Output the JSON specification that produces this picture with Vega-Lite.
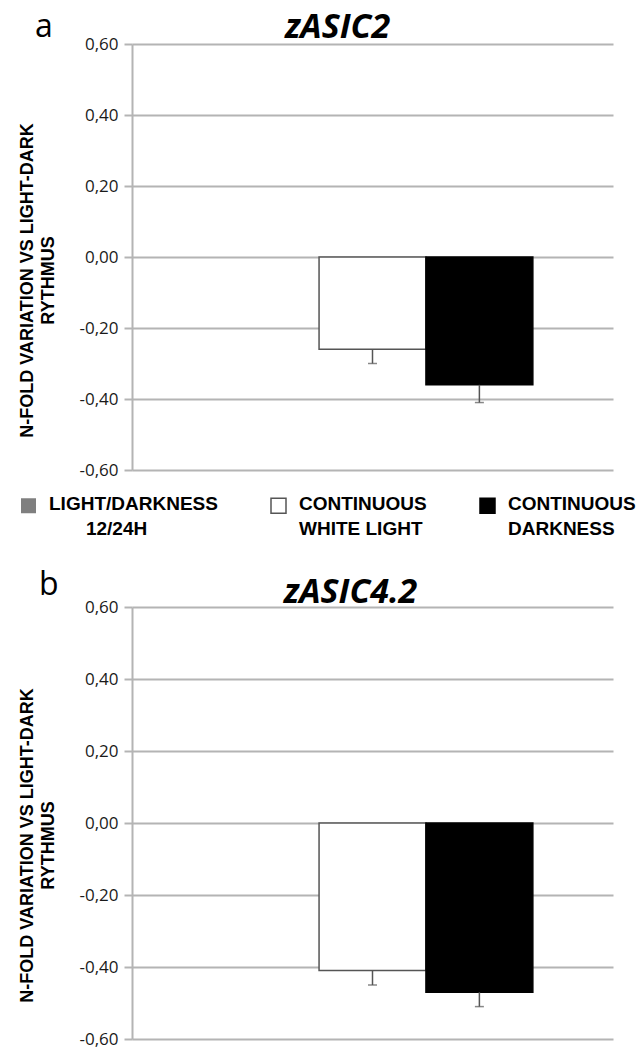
{
  "$schema": "https://vega.github.io/schema/vega-lite/v6.json",
  "background": "white",
  "padding": {"left": 18, "top": 11, "right": 0, "bottom": 0},
  "datasets": {
    "zasic2": [
      {"condition": "LIGHT/DARKNESS 12/24H", "value": 0, "low": null},
      {"condition": "CONTINUOUS WHITE LIGHT", "value": -0.26, "low": -0.30},
      {"condition": "CONTINUOUS DARKNESS", "value": -0.36, "low": -0.41}
    ],
    "zasic42": [
      {"condition": "LIGHT/DARKNESS 12/24H", "value": 0, "low": null},
      {"condition": "CONTINUOUS WHITE LIGHT", "value": -0.41, "low": -0.45},
      {"condition": "CONTINUOUS DARKNESS", "value": -0.47, "low": -0.51}
    ]
  },
  "spacing": 30,
  "resolve": {
    "scale": {"color": "independent", "stroke": "independent", "x": "independent", "y": "independent"},
    "legend": {"color": "independent", "stroke": "independent"}
  },
  "vconcat": [
    {
      "title": {"text": "a", "anchor": "start", "frame": "bounds", "font": "Open Sans", "fontSize": 32, "fontWeight": "normal", "color": "#000000", "baseline": "alphabetic", "offset": 0, "dx": 17, "dy": 58},
      "resolve": {
        "scale": {"color": "independent", "stroke": "independent"},
        "legend": {"color": "independent", "stroke": "independent"}
      },
      "vconcat": [
        {
          "width": 481,
          "height": 426,
          "data": {"name": "zasic2"},
          "title": {"text": "zASIC2", "font": "Open Sans", "fontSize": 34, "fontStyle": "italic", "fontWeight": "bold", "color": "#000000", "anchor": "middle", "baseline": "alphabetic", "offset": 0, "dx": -35, "dy": 37},
          "encoding": {
            "x": {"field": "condition", "type": "nominal", "sort": null, "axis": null,
                  "scale": {"domain": ["LIGHT/DARKNESS 12/24H", "CONTINUOUS WHITE LIGHT", "CONTINUOUS DARKNESS"], "paddingInner": 0, "paddingOuter": 0.75}}
          },
          "layer": [
            {
              "mark": {"type": "bar", "strokeWidth": 1.5},
              "encoding": {
                "y": {"field": "value", "type": "quantitative",
                      "scale": {"domain": [-0.6, 0.6], "nice": false},
                      "title": ["N-FOLD VARIATION VS LIGHT-DARK", "RYTHMUS"],
                      "axis": {"values": [-0.6, -0.4, -0.2, 0, 0.2, 0.4, 0.6],
                               "labelExpr": "replace(replace(format(datum.value, '.2f'), '.', ','), '\u2212', '-')",
                               "labelFont": "Open Sans", "labelFontSize": 17, "labelColor": "#1a1a1a", "labelPadding": 6, "labelOffset": -4,
                               "tickSize": 8, "tickColor": "#b4b4b4", "tickWidth": 2,
                               "domainColor": "#b4b4b4", "domainWidth": 2,
                               "grid": true, "gridColor": "#b4b4b4", "gridWidth": 2,
                               "titleFont": "Liberation Sans", "titleFontWeight": "bold", "titleFontSize": 18, "titleColor": "#000000",
                               "titleLineHeight": 21, "titleX": -96, "titleY": 236, "titleAlign": "center", "titleBaseline": "bottom", "titleAngle": 270}},
                "color": {"field": "condition", "type": "nominal",
                          "scale": {"domain": ["LIGHT/DARKNESS 12/24H", "CONTINUOUS WHITE LIGHT", "CONTINUOUS DARKNESS"], "range": ["#7f7f7f", "#ffffff", "#000000"]},
                          "legend": {"orient": "none", "legendX": -113, "legendY": 452, "direction": "horizontal", "title": null,
                                     "symbolType": "square", "symbolSize": 225, "symbolStrokeColor": "#444444", "symbolStrokeWidth": 1.5,
                                     "labelFont": "Liberation Sans", "labelFontWeight": "bold", "labelFontSize": 19, "labelColor": "#000000",
                                     "labelOffset": 11, "columnPadding": 50, "labelLimit": 400, "labelBaseline": "alphabetic",
                                     "labelExpr": "datum.label == 'LIGHT/DARKNESS 12/24H' ? ['LIGHT/DARKNESS', '\u200b\u00a0\u00a0\u00a0\u00a0\u00a0\u00a0\u00a012/24H'] : datum.label == 'CONTINUOUS WHITE LIGHT' ? ['CONTINUOUS', 'WHITE LIGHT'] : ['CONTINUOUS', 'DARKNESS']"}},
                "stroke": {"field": "condition", "type": "nominal", "legend": null,
                           "scale": {"domain": ["LIGHT/DARKNESS 12/24H", "CONTINUOUS WHITE LIGHT", "CONTINUOUS DARKNESS"], "range": ["transparent", "#555555", "#000000"]}}
              }
            },
            {
              "mark": {"type": "rule", "color": "#555555", "strokeWidth": 1.5},
              "encoding": {"y": {"field": "low", "type": "quantitative"}, "y2": {"field": "value"}}
            },
            {
              "mark": {"type": "tick", "color": "#555555", "thickness": 1.5, "size": 9},
              "encoding": {"y": {"field": "low", "type": "quantitative"}}
            }
          ]
        }
      ]
    },
    {
      "title": {"text": "b", "anchor": "start", "frame": "bounds", "font": "Open Sans", "fontSize": 32, "fontWeight": "normal", "color": "#000000", "baseline": "alphabetic", "offset": 0, "dx": 21, "dy": 51},
      "resolve": {
        "scale": {"color": "independent", "stroke": "independent"},
        "legend": {"color": "independent", "stroke": "independent"}
      },
      "vconcat": [
        {
          "width": 481,
          "height": 432,
          "data": {"name": "zasic42"},
          "title": {"text": "zASIC4.2", "font": "Open Sans", "fontSize": 34, "fontStyle": "italic", "fontWeight": "bold", "color": "#000000", "anchor": "middle", "baseline": "alphabetic", "offset": 0, "dx": -22, "dy": 39},
          "encoding": {
            "x": {"field": "condition", "type": "nominal", "sort": null, "axis": null,
                  "scale": {"domain": ["LIGHT/DARKNESS 12/24H", "CONTINUOUS WHITE LIGHT", "CONTINUOUS DARKNESS"], "paddingInner": 0, "paddingOuter": 0.75}}
          },
          "layer": [
            {
              "mark": {"type": "bar", "strokeWidth": 1.5},
              "encoding": {
                "y": {"field": "value", "type": "quantitative",
                      "scale": {"domain": [-0.6, 0.6], "nice": false},
                      "title": ["N-FOLD VARIATION VS LIGHT-DARK", "RYTHMUS"],
                      "axis": {"values": [-0.6, -0.4, -0.2, 0, 0.2, 0.4, 0.6],
                               "labelExpr": "replace(replace(format(datum.value, '.2f'), '.', ','), '\u2212', '-')",
                               "labelFont": "Open Sans", "labelFontSize": 17, "labelColor": "#1a1a1a", "labelPadding": 6, "labelOffset": -4,
                               "tickSize": 8, "tickColor": "#b4b4b4", "tickWidth": 2,
                               "domainColor": "#b4b4b4", "domainWidth": 2,
                               "grid": true, "gridColor": "#b4b4b4", "gridWidth": 2,
                               "titleFont": "Liberation Sans", "titleFontWeight": "bold", "titleFontSize": 18, "titleColor": "#000000",
                               "titleLineHeight": 21, "titleX": -96, "titleY": 238, "titleAlign": "center", "titleBaseline": "bottom", "titleAngle": 270}},
                "color": {"field": "condition", "type": "nominal", "legend": null,
                          "scale": {"domain": ["LIGHT/DARKNESS 12/24H", "CONTINUOUS WHITE LIGHT", "CONTINUOUS DARKNESS"], "range": ["#7f7f7f", "#ffffff", "#000000"]}},
                "stroke": {"field": "condition", "type": "nominal", "legend": null,
                           "scale": {"domain": ["LIGHT/DARKNESS 12/24H", "CONTINUOUS WHITE LIGHT", "CONTINUOUS DARKNESS"], "range": ["transparent", "#555555", "#000000"]}}
              }
            },
            {
              "mark": {"type": "rule", "color": "#555555", "strokeWidth": 1.5},
              "encoding": {"y": {"field": "low", "type": "quantitative"}, "y2": {"field": "value"}}
            },
            {
              "mark": {"type": "tick", "color": "#555555", "thickness": 1.5, "size": 9},
              "encoding": {"y": {"field": "low", "type": "quantitative"}}
            }
          ]
        }
      ]
    }
  ],
  "config": {
    "view": {"stroke": null},
    "style": {"guide-label": {"lineHeight": 25, "dy": 4}}
  }
}
